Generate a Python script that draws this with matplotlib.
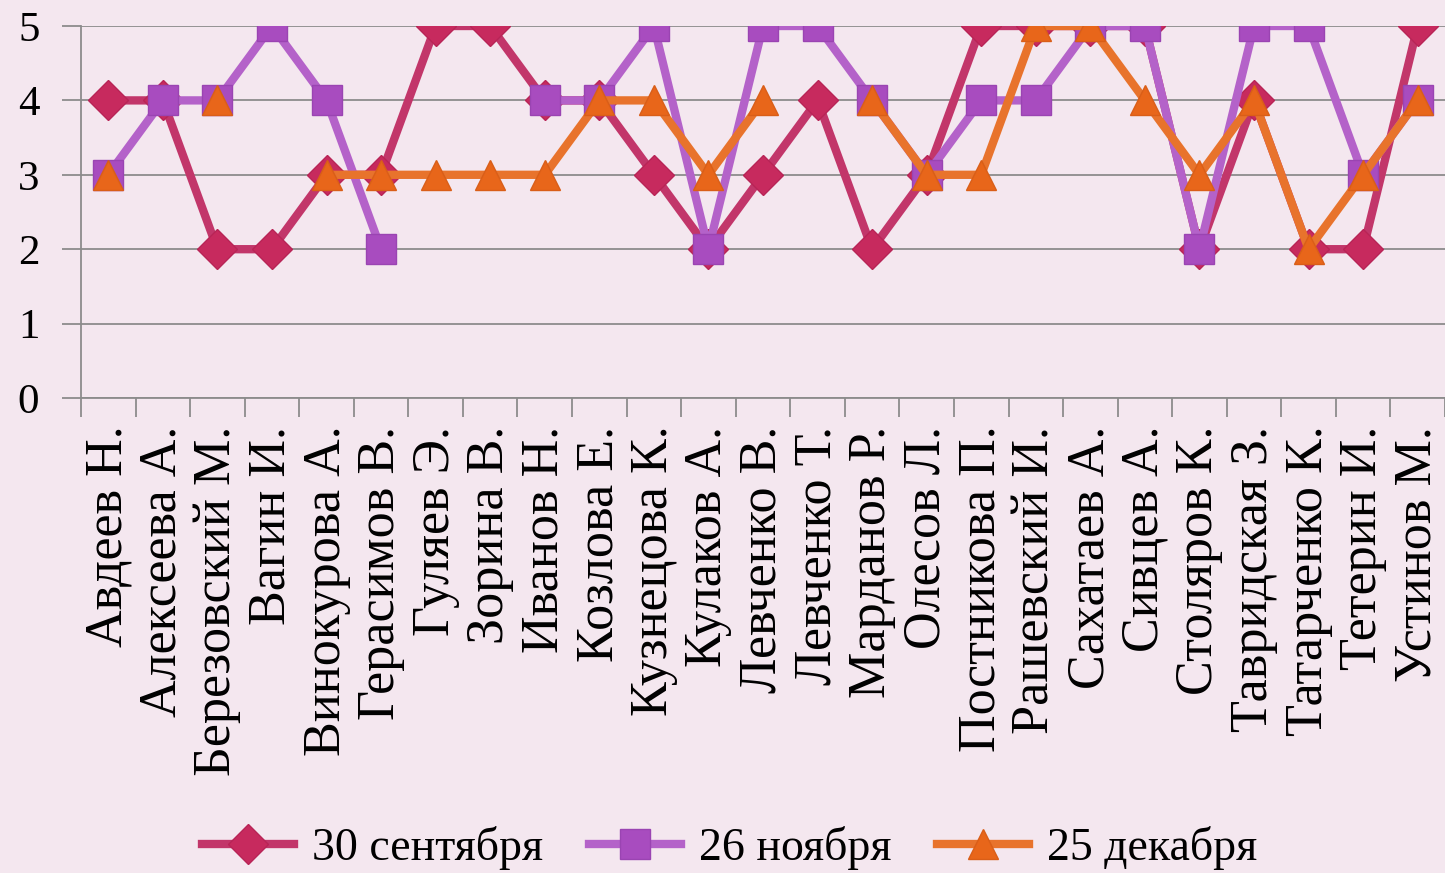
import numpy as np
import matplotlib.pyplot as plt

plt.rcParams['font.family'] = ['Liberation Serif', 'DejaVu Serif']

# students
names = ['Авдеев Н.', 'Алексеева А.', 'Березовский М.', 'Вагин И.', 'Винокурова А.',
         'Герасимов В.', 'Гуляев Э.', 'Зорина В.', 'Иванов Н.', 'Козлова Е.',
         'Кузнецова К.', 'Кулаков А.', 'Левченко В.', 'Левченко Т.', 'Марданов Р.',
         'Олесов Л.', 'Постникова П.', 'Рашевский И.', 'Сахатаев А.', 'Сивцев А.',
         'Столяров К.', 'Тавридская З.', 'Татарченко К.', 'Тетерин И.', 'Устинов М.']

nan = np.nan
# marks for each date (nan = no mark)
sep30 = [4, 4, 2, 2, 3, 3, 5, 5, 4, 4, 3, 2, 3, 4, 2, 3, 5, 5, 5, 5, 2, 4, 2, 2, 5]
nov26 = [3, 4, 4, 5, 4, 2, nan, nan, 4, 4, 5, 2, 5, 5, 4, 3, 4, 4, 5, 5, 2, 5, 5, 3, 4]
dec25 = [3, nan, 4, nan, 3, 3, 3, 3, 3, 4, 4, 3, 4, nan, 4, 3, 3, 5, 5, 4, 3, 4, 2, 3, 4]

labels = ['30 сентября', '26 ноября', '25 декабря']

bg = '#f4e7ef'
grid_col = '#8c8c8c'

fig = plt.figure(figsize=(14.45, 8.73), dpi=100, facecolor=bg)
ax = fig.add_axes([81/1445, 1 - 398/873, (1445 - 81)/1445, (398 - 26)/873])
ax.set_facecolor(bg)

x = np.arange(len(names))

ax.plot(x, sep30, color='#c2366a', lw=6, marker='D', markersize=20,
        markerfacecolor='#c72a5e', markeredgecolor='#b82456', label=labels[0], zorder=3)
ax.plot(x, nov26, color='#b462c9', lw=6, marker='s', markersize=22,
        markerfacecolor='#a84cbf', markeredgecolor='#9a44b2', label=labels[1], zorder=4)
ax.plot(x, dec25, color='#e8732c', lw=6, marker='^', markersize=22,
        markerfacecolor='#e8661a', markeredgecolor='#d95e18', label=labels[2], zorder=5)

ax.set_xlim(-0.5, len(names) - 0.5)
ax.set_ylim(0, 5)
ax.set_yticks(range(6))
ax.yaxis.grid(True, color=grid_col, lw=1.3)
ax.set_axisbelow(True)

# tick marks between categories, labels at centres
ax.set_xticks(np.arange(len(names) + 1) - 0.5)
ax.set_xticklabels([])
ax.set_xticks(x, minor=True)
ax.set_xticklabels(names, minor=True, rotation=90, fontsize=37.5)
ax.tick_params(axis='x', which='major', length=14, width=1.3, color=grid_col)
ax.tick_params(axis='x', which='minor', length=0, pad=20)
ax.tick_params(axis='y', length=14, width=1.3, color=grid_col, labelsize=31, pad=16)

for s in ['top', 'right']:
    ax.spines[s].set_visible(False)
for s in ['left', 'bottom']:
    ax.spines[s].set_color(grid_col)
    ax.spines[s].set_linewidth(1.3)

fig.legend(loc='center', bbox_to_anchor=(0.505, 0.029), ncol=3, frameon=False,
           fontsize=33, handlelength=2.0, handletextpad=0.4, columnspacing=1.0)

fig.savefig('out.png', dpi=100, facecolor=bg)
